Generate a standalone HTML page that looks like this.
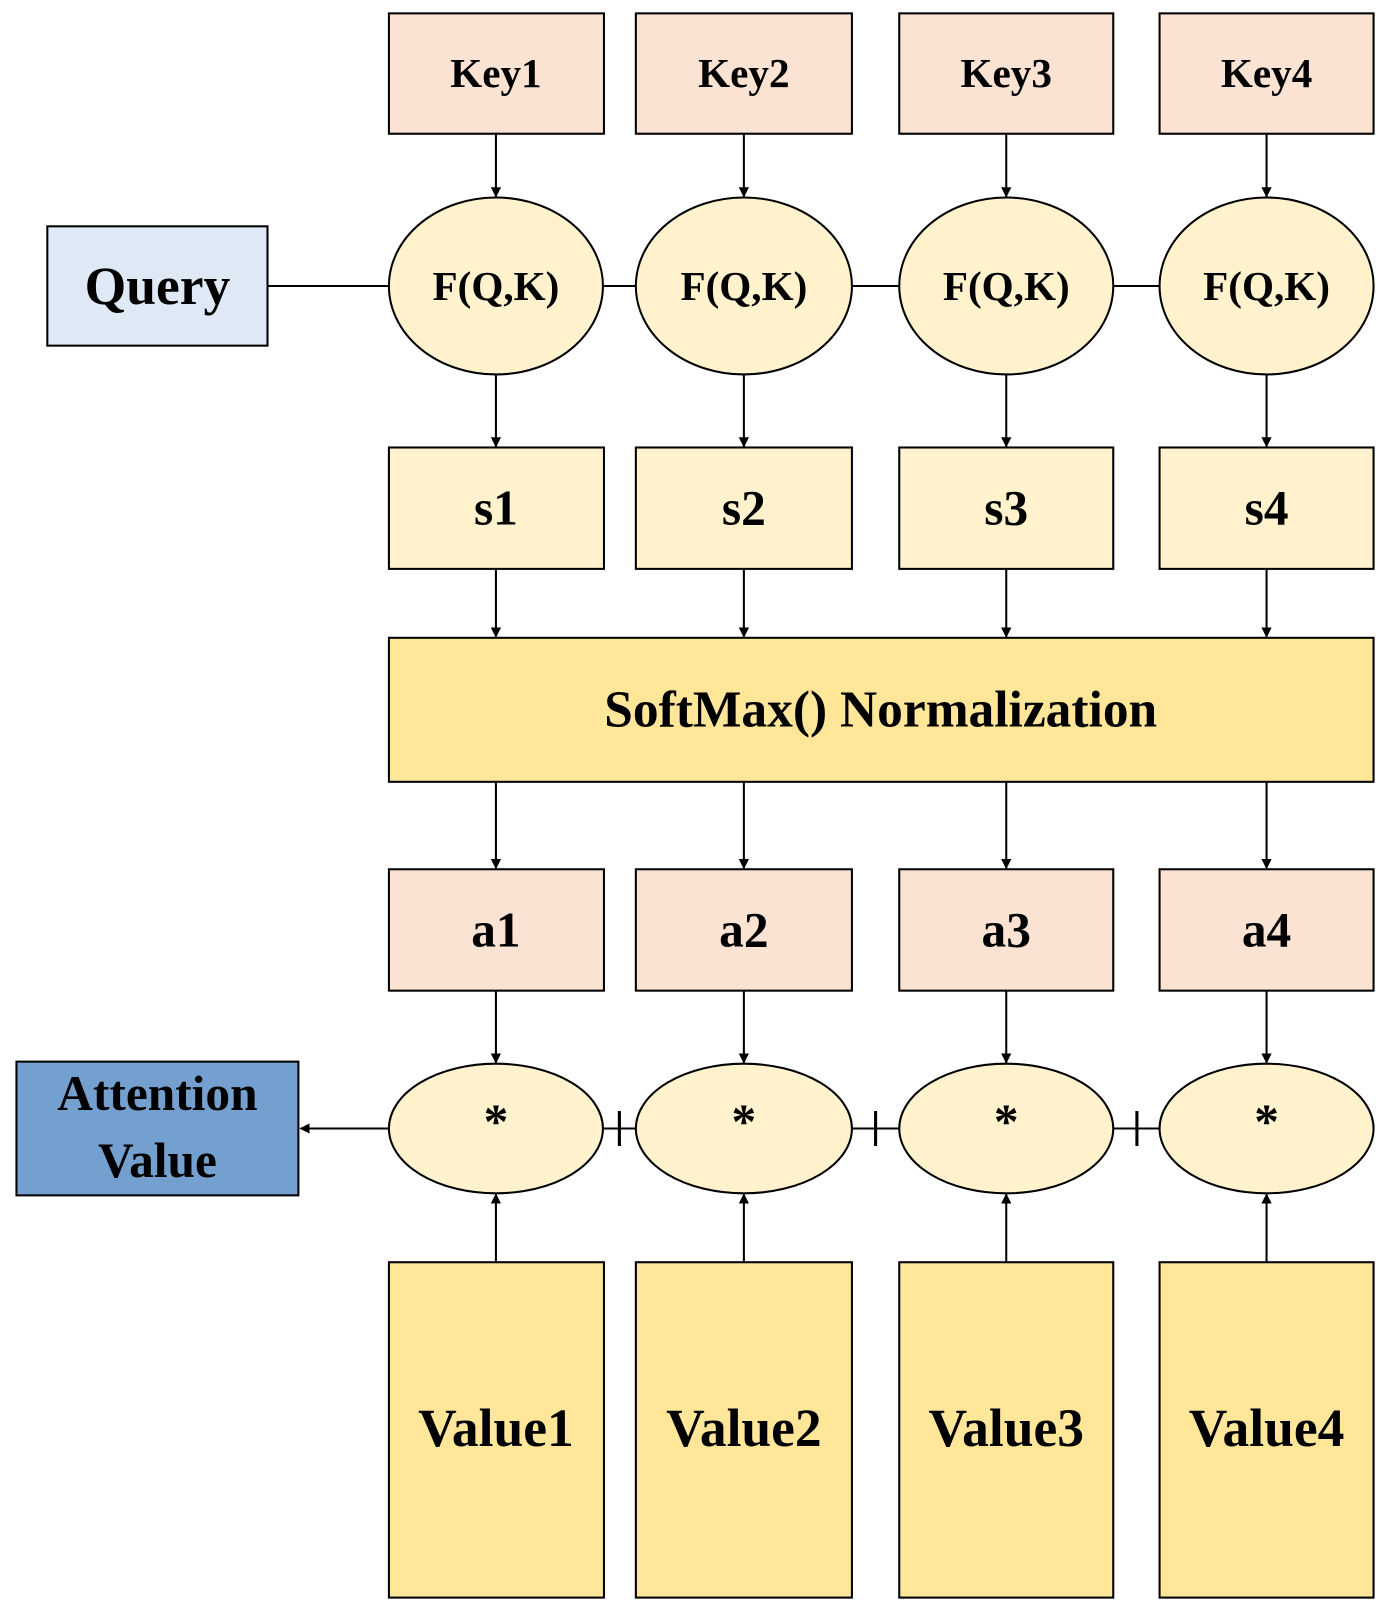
<!DOCTYPE html>
<html><head><meta charset="utf-8"><style>
html,body{margin:0;padding:0;background:#fff;}
svg{display:block;}
text{font-family:"Liberation Serif",serif;font-weight:bold;fill:#000;text-anchor:middle;dominant-baseline:central;}
</style></head><body>
<svg width="1389" height="1612" viewBox="0 0 1350 1567" preserveAspectRatio="none" xmlns="http://www.w3.org/2000/svg">
<defs><marker id="a" viewBox="0 0 10 10" refX="9" refY="5" markerWidth="5" markerHeight="5" orient="auto"><path d="M0,0L10,5L0,10z" fill="#000"/></marker></defs>
<g stroke="#000" stroke-width="2" fill="none">
<!-- query line -->
<line x1="260" y1="278" x2="1127" y2="278"/>
<!-- star line -->
<line x1="378" y1="1097" x2="1127" y2="1097"/>
<line x1="378" y1="1097" x2="292" y2="1097" marker-end="url(#a)"/>
<line x1="602" y1="1080" x2="602" y2="1114" stroke-width="3"/>
<line x1="851" y1="1080" x2="851" y2="1114" stroke-width="3"/>
<line x1="1105" y1="1080" x2="1105" y2="1114" stroke-width="3"/>
</g>
<g stroke="#000" stroke-width="2" fill="none" marker-end="url(#a)">
<line x1="482" y1="130" x2="482" y2="191"/><line x1="723" y1="130" x2="723" y2="191"/><line x1="978" y1="130" x2="978" y2="191"/><line x1="1231" y1="130" x2="1231" y2="191"/>
<line x1="482" y1="364" x2="482" y2="434"/><line x1="723" y1="364" x2="723" y2="434"/><line x1="978" y1="364" x2="978" y2="434"/><line x1="1231" y1="364" x2="1231" y2="434"/>
<line x1="482" y1="553" x2="482" y2="619"/><line x1="723" y1="553" x2="723" y2="619"/><line x1="978" y1="553" x2="978" y2="619"/><line x1="1231" y1="553" x2="1231" y2="619"/>
<line x1="482" y1="760" x2="482" y2="844"/><line x1="723" y1="760" x2="723" y2="844"/><line x1="978" y1="760" x2="978" y2="844"/><line x1="1231" y1="760" x2="1231" y2="844"/>
<line x1="482" y1="963" x2="482" y2="1033"/><line x1="723" y1="963" x2="723" y2="1033"/><line x1="978" y1="963" x2="978" y2="1033"/><line x1="1231" y1="963" x2="1231" y2="1033"/>
<line x1="482" y1="1227" x2="482" y2="1161"/><line x1="723" y1="1227" x2="723" y2="1161"/><line x1="978" y1="1227" x2="978" y2="1161"/><line x1="1231" y1="1227" x2="1231" y2="1161"/>
</g>
<g stroke="#000" stroke-width="2">
<rect x="46" y="220" width="214" height="116" fill="#dfe9f5"/>
<rect x="16" y="1032" width="274" height="130" fill="#74a0cf"/>
<rect x="378" y="13" width="209" height="117" fill="#fae3d3"/><rect x="618" y="13" width="210" height="117" fill="#fae3d3"/><rect x="874" y="13" width="208" height="117" fill="#fae3d3"/><rect x="1127" y="13" width="208" height="117" fill="#fae3d3"/>
<ellipse cx="482" cy="278" rx="104" ry="86" fill="#fff2cc"/><ellipse cx="723" cy="278" rx="105" ry="86" fill="#fff2cc"/><ellipse cx="978" cy="278" rx="104" ry="86" fill="#fff2cc"/><ellipse cx="1231" cy="278" rx="104" ry="86" fill="#fff2cc"/>
<rect x="378" y="435" width="209" height="118" fill="#fff2cc"/><rect x="618" y="435" width="210" height="118" fill="#fff2cc"/><rect x="874" y="435" width="208" height="118" fill="#fff2cc"/><rect x="1127" y="435" width="208" height="118" fill="#fff2cc"/>
<rect x="378" y="620" width="957" height="140" fill="#ffe699"/>
<rect x="378" y="845" width="209" height="118" fill="#fae3d3"/><rect x="618" y="845" width="210" height="118" fill="#fae3d3"/><rect x="874" y="845" width="208" height="118" fill="#fae3d3"/><rect x="1127" y="845" width="208" height="118" fill="#fae3d3"/>
<ellipse cx="482" cy="1097" rx="104" ry="63" fill="#fff2cc"/><ellipse cx="723" cy="1097" rx="105" ry="63" fill="#fff2cc"/><ellipse cx="978" cy="1097" rx="104" ry="63" fill="#fff2cc"/><ellipse cx="1231" cy="1097" rx="104" ry="63" fill="#fff2cc"/>
<rect x="378" y="1227" width="209" height="326" fill="#ffe699"/><rect x="618" y="1227" width="210" height="326" fill="#ffe699"/><rect x="874" y="1227" width="208" height="326" fill="#ffe699"/><rect x="1127" y="1227" width="208" height="326" fill="#ffe699"/>
</g>
<g font-size="40">
<text x="482" y="71">Key1</text><text x="723" y="71">Key2</text><text x="978" y="71">Key3</text><text x="1231" y="71">Key4</text>
<text x="482" y="278">F(Q,K)</text><text x="723" y="278">F(Q,K)</text><text x="978" y="278">F(Q,K)</text><text x="1231" y="278">F(Q,K)</text>
</g>
<g font-size="48">
<text x="482" y="494">s1</text><text x="723" y="494">s2</text><text x="978" y="494">s3</text><text x="1231" y="494">s4</text>
<text x="482" y="904">a1</text><text x="723" y="904">a2</text><text x="978" y="904">a3</text><text x="1231" y="904">a4</text>
<text x="482" y="1090">*</text><text x="723" y="1090">*</text><text x="978" y="1090">*</text><text x="1231" y="1090">*</text>
</g>
<text x="856" y="690" font-size="50">SoftMax() Normalization</text>
<text x="153" y="278" font-size="52">Query</text>
<text x="153" y="1063" font-size="48">Attention</text>
<text x="153" y="1128" font-size="48">Value</text>
<g font-size="52">
<text x="482" y="1388">Value1</text><text x="723" y="1388">Value2</text><text x="978" y="1388">Value3</text><text x="1231" y="1388">Value4</text>
</g>
</svg>
</body></html>
